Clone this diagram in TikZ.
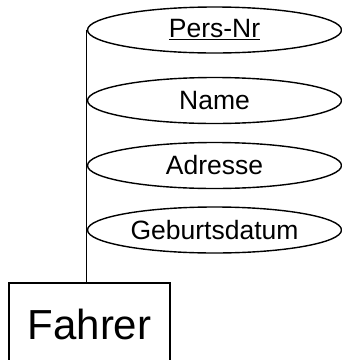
\documentclass[tikz,border=0pt]{standalone}
\usepackage{fontspec}
\setmainfont{Liberation Sans}
\usetikzlibrary{shapes.geometric}
\tikzset{
  attr/.style={draw, ellipse, line width=1.4pt, minimum width=254pt, minimum height=46pt, inner sep=0pt, font=\fontsize{26.5}{30}\selectfont},
  entity/.style={draw, rectangle, line width=1.3pt, minimum width=161pt, minimum height=82pt, inner sep=0pt, font=\fontsize{42}{48}\selectfont},
  conn/.style={line width=1.3pt}
}
\begin{document}
\begin{tikzpicture}[x=1pt,y=-1pt]
\useasboundingbox (0,0) rectangle (342,360);
\clip (0,0) rectangle (342,360);
\node[attr] (pnr) at (214.5,30) {\underline{Pers-Nr}};
\node[attr] (name) at (214.5,100.5) {Name};
\node[attr] (adr) at (214.5,165.5) {Adresse};
\node[attr] (geb) at (214.5,230) {Geburtsdatum};
\node[entity] (fahrer) at (89.5,324) {Fahrer};
\draw[conn] (pnr.west) -- (pnr.west |- fahrer.north);
\end{tikzpicture}
\end{document}
